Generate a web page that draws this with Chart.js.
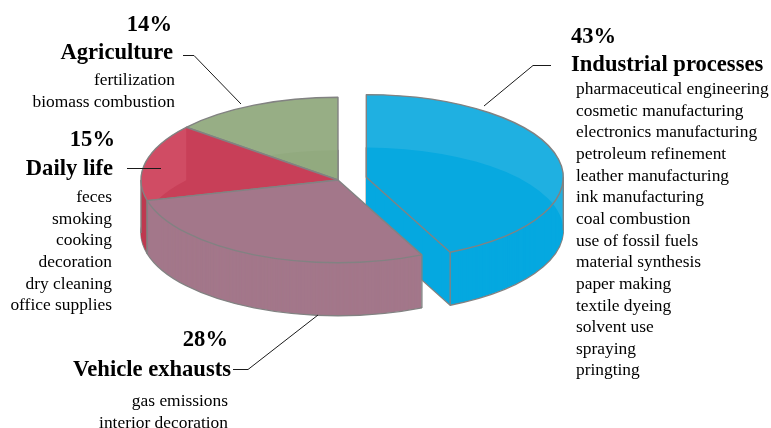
<!DOCTYPE html>
<html>
<head>
<meta charset="utf-8">
<script src="https://cdn.jsdelivr.net/npm/chart.js@4/dist/chart.umd.js"></script>
<style>
    html, body { margin: 0; padding: 0; background: #fff; }
    canvas { display: block; }
</style>
</head>
<body>
<canvas id="sourceChart" width="771" height="428"></canvas>
<script>
// Source shares, clockwise from twelve o'clock
const categories = ['Industrial processes', 'Vehicle exhausts', 'Daily life', 'Agriculture'];
const shares = [43, 28, 15, 14];
const percentLabels = ['43%', '28%', '15%', '14%'];

const industrialItems = ['pharmaceutical engineering', 'cosmetic manufacturing', 'electronics manufacturing',
    'petroleum refinement', 'leather manufacturing', 'ink manufacturing', 'coal combustion', 'use of fossil fuels',
    'material synthesis', 'paper making', 'textile dyeing', 'solvent use', 'spraying', 'pringting'];
const vehicleItems = ['gas emissions', 'interior decoration'];
const dailyItems = ['feces', 'smoking', 'cooking', 'decoration', 'dry cleaning', 'office supplies'];
const agricultureItems = ['fertilization', 'biomass combustion'];

const faceColors = ['#07a9e0', '#a3778a', '#c83f58', '#92aa7f'];
const sideColors = ['#05a8e0', '#a3778a', '#be3a50', '#92aa7f'];
const wallColors = ['#1fb0e1', null, '#d04c64', '#97ae85'];
const explode = [29, 0, 0, 0];
const edgeColor = '#828282';
const edgeWidth = 1.4;

const tilt = 0.42;    // vertical squash of the pie
const depth = 53;     // height of the extruded wall in px
const drawOrder = [0, 3, 2, 1];   // back slices first

// Pie transform for slice i, pushed down by d px
function withTilt(ctx, arc, i, d, fn) {
    const mid = (arc.startAngle + arc.endAngle) / 2;
    ctx.save();
    ctx.translate(arc.x, arc.y + d);
    ctx.scale(1, tilt);
    ctx.translate(-arc.x + Math.cos(mid) * explode[i], -arc.y + Math.sin(mid) * explode[i]);
    fn();
    ctx.restore();
}

function drawWith(ctx, arc, overrides) {
    const saved = arc.options;
    arc.options = Object.assign({}, saved, overrides);
    arc.draw(ctx);
    arc.options = saved;
}

// Lighter band where the rear rim shows through the top face
function drawWall(ctx, arc, i) {
    if (!wallColors[i]) return;
    const first = arc.startAngle < 0;
    const start = first ? arc.startAngle : Math.max(arc.startAngle, Math.PI);
    const end = first ? Math.min(arc.endAngle, 0) : arc.endAngle;
    ctx.save();
    if (!first) {
        // the left slices keep it on the top face only
        ctx.beginPath();
        withTilt(ctx, arc, i, 0, () => {
            ctx.moveTo(arc.x, arc.y);
            ctx.arc(arc.x, arc.y, arc.outerRadius, arc.startAngle, arc.endAngle);
            ctx.closePath();
        });
        ctx.clip();
    }
    ctx.beginPath();
    withTilt(ctx, arc, i, 0, () => ctx.arc(arc.x, arc.y, arc.outerRadius, start, end));
    withTilt(ctx, arc, i, depth, () => ctx.arc(arc.x, arc.y, arc.outerRadius, end, start, true));
    ctx.closePath();
    ctx.fillStyle = wallColors[i];
    ctx.fill();
    ctx.restore();
}

// Vertical edges: front corners plus the left and right tangents of the rim
function drawVerticalEdges(ctx, arc, i) {
    const angles = [arc.startAngle, arc.endAngle].filter(a => Math.sin(a) > 0);
    if (arc.startAngle < 0 && arc.endAngle > 0) angles.push(0);
    if (arc.startAngle < Math.PI && arc.endAngle > Math.PI) angles.push(Math.PI);
    angles.forEach(angle => {
        const x = arc.x + Math.cos(angle) * arc.outerRadius;
        const y = arc.y + Math.sin(angle) * arc.outerRadius;
        ctx.beginPath();
        withTilt(ctx, arc, i, 0, () => ctx.moveTo(x, y));
        withTilt(ctx, arc, i, depth, () => ctx.lineTo(x, y));
        ctx.strokeStyle = edgeColor;
        ctx.lineWidth = edgeWidth;
        ctx.stroke();
    });
}

const pie3d = {
    id: 'pie3d',
    beforeDatasetsDraw(chart) {
        const ctx = chart.ctx;
        const arcs = chart.getDatasetMeta(0).data;

        // keep the outline even in spite of the squash
        const rawStroke = ctx.stroke;
        ctx.stroke = function () {
            ctx.save();
            ctx.setTransform(1, 0, 0, 1, 0, 0);
            rawStroke.call(ctx);
            ctx.restore();
        };

        drawOrder.forEach(i => {
            const arc = arcs[i];
            // bottom copy keeps its outline, the copies above it build the wall
            withTilt(ctx, arc, i, depth, () => drawWith(ctx, arc, { backgroundColor: sideColors[i] }));
            for (let d = depth - 1; d > 0; d--) {
                withTilt(ctx, arc, i, d, () => drawWith(ctx, arc, { backgroundColor: sideColors[i], borderWidth: 0 }));
            }
            withTilt(ctx, arc, i, 0, () => drawWith(ctx, arc, { backgroundColor: faceColors[i], borderWidth: 0 }));
            drawWall(ctx, arc, i);
            withTilt(ctx, arc, i, 0, () => drawWith(ctx, arc, { backgroundColor: 'rgba(0,0,0,0)' }));
            drawVerticalEdges(ctx, arc, i);
        });

        delete ctx.stroke;
        return false;
    },
    afterDraw(chart) {
        const ctx = chart.ctx;
        ctx.save();
        ctx.fillStyle = '#000';
        ctx.textBaseline = 'alphabetic';

        const bold = 'bold 22.6px "Liberation Serif"';
        const plain = '17.4px "Liberation Serif"';
        const put = (text, x, y, font, align) => {
            ctx.font = font;
            ctx.textAlign = align;
            ctx.fillText(text, x, y);
        };
        const list = (items, x, y, align) => {
            items.forEach((t, i) => put(t, x, y + i * 21.65, plain, align));
        };

        put(percentLabels[0], 571, 43, bold, 'left');
        put(categories[0], 571, 71, bold, 'left');
        list(industrialItems, 576, 94, 'left');

        put(percentLabels[1], 228, 346, bold, 'right');
        put(categories[1], 231, 376, bold, 'right');
        list(vehicleItems, 228, 406, 'right');

        put(percentLabels[2], 115, 146, bold, 'right');
        put(categories[2], 113, 175, bold, 'right');
        list(dailyItems, 112, 202, 'right');

        put(percentLabels[3], 172, 31, bold, 'right');
        put(categories[3], 173, 59, bold, 'right');
        list(agricultureItems, 175, 85, 'right');

        // leader lines
        ctx.strokeStyle = '#1a1a1a';
        ctx.lineWidth = 1;
        [
            [[551, 65.5], [533, 65.5], [484, 106]],
            [[233, 369.5], [248, 369.5], [318, 315]],
            [[127, 168.5], [161, 168.5]],
            [[183, 55.5], [194, 55.5], [241, 104]]
        ].forEach(pts => {
            ctx.beginPath();
            pts.forEach((p, i) => i ? ctx.lineTo(p[0], p[1]) : ctx.moveTo(p[0], p[1]));
            ctx.stroke();
        });
        ctx.restore();
    }
};

new Chart(document.getElementById('sourceChart').getContext('2d'), {
    type: 'pie',
    data: {
        labels: categories,
        datasets: [{
            data: shares,
            backgroundColor: faceColors,
            borderColor: edgeColor,
            borderWidth: edgeWidth,
            clip: false
        }]
    },
    options: {
        responsive: false,
        animation: false,
        radius: 197,
        layout: { padding: { right: 95, bottom: 68 } },
        plugins: { legend: { display: false }, tooltip: { enabled: false } }
    },
    plugins: [pie3d]
});
</script>
</body>
</html>
